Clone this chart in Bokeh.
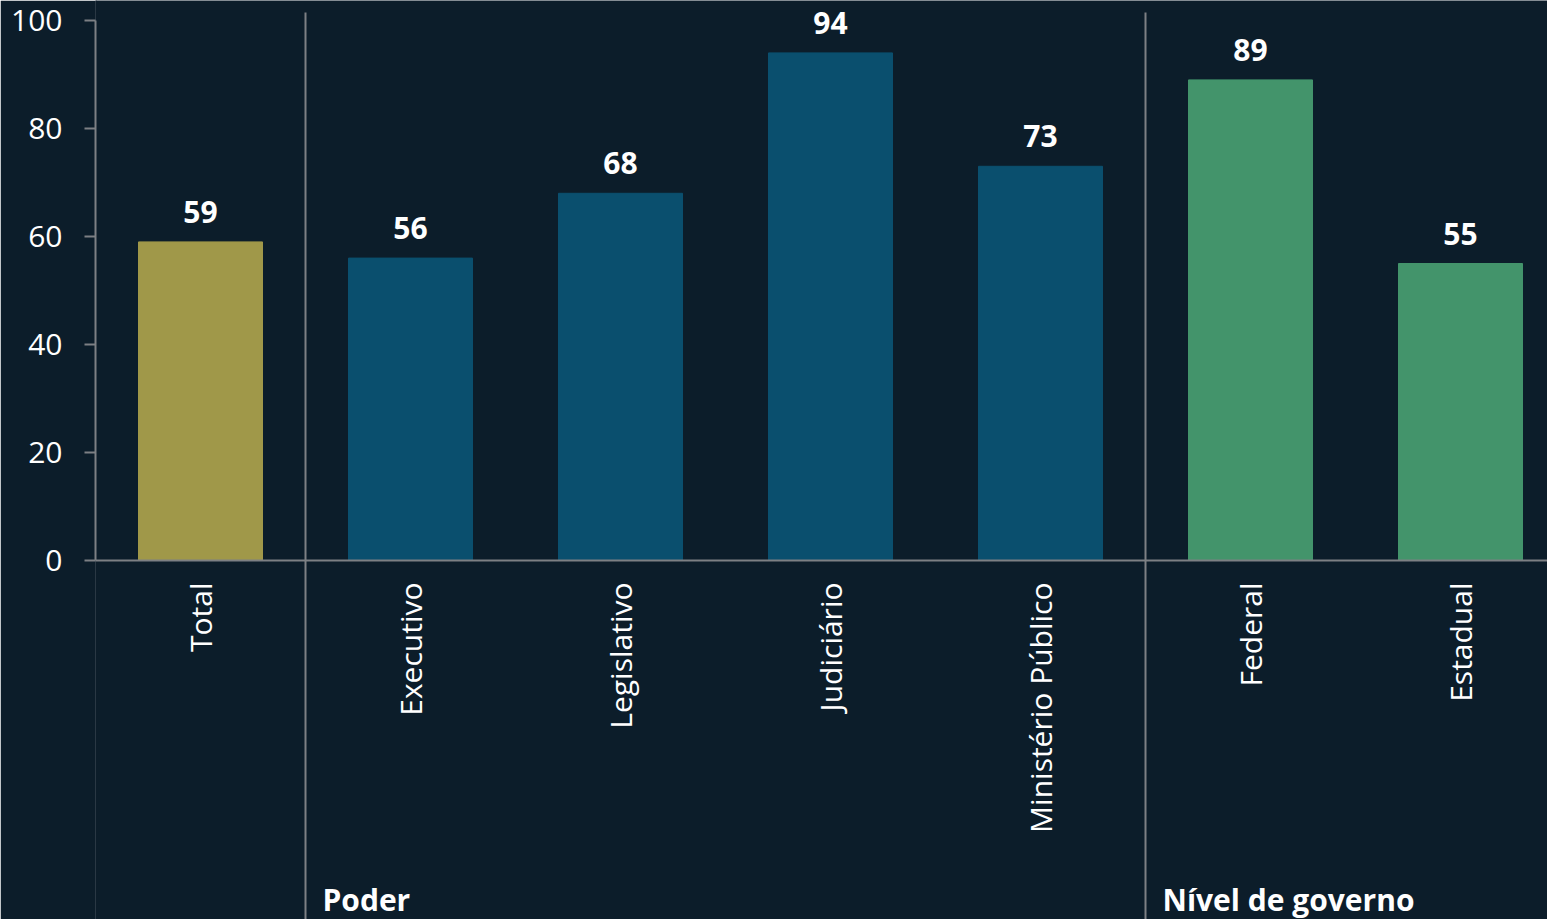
import numpy as np
from bokeh.plotting import figure
from bokeh.models import Range1d, FixedTicker, Span, ColumnDataSource
from bokeh.core.properties import value
from bokeh.embed import file_html
from bokeh.resources import INLINE

# ---- data ----
categories = ["Total", "Executivo", "Legislativo", "Judiciário",
              "Ministério Público", "Federal", "Estadual"]
values = [59, 56, 68, 94, 73, 89, 55]
groups = ["", "Poder", "Nível de governo"]
group_sizes = [1, 4, 2]
group_colors = ["#a09849", "#0a4f6e", "#43946b"]
y_ticks = [0, 20, 40, 60, 80, 100]

# ---- style ----
BG = "#0c1d2a"
GRAY = "#7d8084"
WHITE = "#ffffff"
FONT = "Open Sans"

W, H = 1547, 919
LEFT = 95
PX_X = 210.0          # pixels per category
PX_Y = 5.4            # pixels per unit
ZERO_PX = 560         # pixel distance of y=0 from top of figure

x_start = -0.5
x_end = x_start + (W - LEFT) / PX_X
y_top = ZERO_PX / PX_Y
y_bot = -(H - ZERO_PX) / PX_Y

colors = []
for c, n in zip(group_colors, group_sizes):
    colors += [c] * n

xs = np.arange(len(categories))
src = ColumnDataSource(dict(
    x=xs, top=values, color=colors,
    label=[str(v) for v in values],
    label_y=[v + 30 / PX_Y for v in values],
    cat=categories,
    cat_y=[-22 / PX_Y] * len(categories),
))

p = figure(width=W, height=H, output_backend="svg", toolbar_location=None,
           x_range=Range1d(x_start, x_end), y_range=Range1d(y_bot, y_top),
           min_border_left=LEFT, min_border_right=0, min_border_top=0,
           min_border_bottom=0)
p.background_fill_color = BG
p.border_fill_color = BG
p.outline_line_color = None
p.grid.visible = False
p.xaxis.visible = False

ya = p.yaxis[0]
ya.ticker = FixedTicker(ticks=y_ticks)
ya.bounds = (0, 100)
ya.axis_line_color = GRAY
ya.axis_line_width = 2
ya.major_tick_line_color = GRAY
ya.major_tick_line_width = 2
ya.major_tick_out = 11
ya.major_tick_in = 0
ya.minor_tick_line_color = None
ya.major_label_standoff = 22
ya.major_label_text_font = FONT
ya.major_label_text_font_size = "30px"
ya.major_label_text_color = WHITE

# hide the seam between frame and border fills
p.add_layout(Span(location=x_start, dimension="height", line_color=BG,
                  line_width=3, level="underlay"))

p.vbar(x="x", top="top", bottom=0, width=124 / PX_X, color="color", source=src)

p.add_layout(Span(location=0, dimension="width", line_color=GRAY, line_width=2))

# group separators
bounds = np.cumsum(group_sizes)[:-1] - 0.5
p.segment(x0=bounds, y0=[y_bot - 10] * len(bounds), x1=bounds,
          y1=[(ZERO_PX - 12) / PX_Y] * len(bounds), line_color=GRAY, line_width=2)

# value labels
p.text(x="x", y="label_y", text="label", source=src, text_align="center",
       text_baseline="middle", text_font=value(FONT), text_font_style="bold",
       text_font_size="30px", text_color=WHITE)

# category labels
p.text(x="x", y="cat_y", text="cat", source=src, angle=np.pi / 2,
       text_align="right", text_baseline="middle", text_font=value(FONT),
       text_font_size="30px", text_color=WHITE)

# group labels
starts = np.concatenate([[0], np.cumsum(group_sizes)[:-1]]) - 0.5
gx = [s + 17 / PX_X for s, g in zip(starts, groups) if g]
gt = [g for g in groups if g]
p.text(x=gx, y=[-(899 - ZERO_PX) / PX_Y] * len(gx), text=gt,
       text_align="left", text_baseline="middle", text_font=value(FONT),
       text_font_style="bold", text_font_size="30px", text_color=WHITE)

open("out.html", "w").write(file_html(p, INLINE))
